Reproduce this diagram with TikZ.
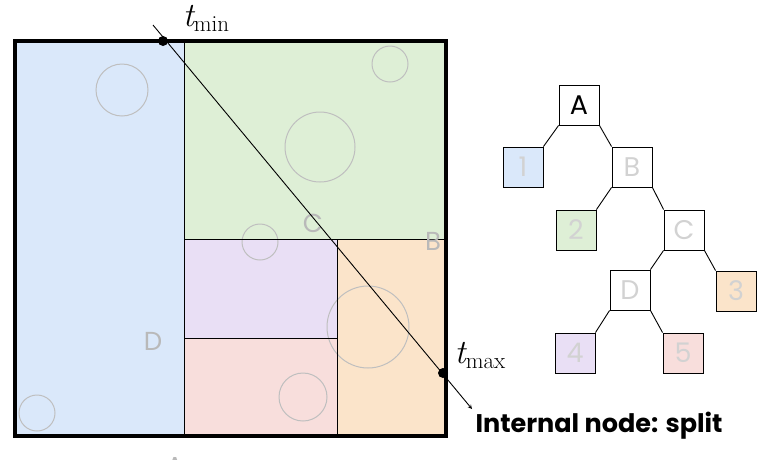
\documentclass[tikz,border=0pt]{standalone}
\usepackage{fontspec}
\newfontfamily\gfont{Poppins}
\newcommand{\tlab}[1]{{\fontsize{34}{34}\selectfont\itshape t}\raisebox{-5pt}{\fontsize{23}{23}\selectfont #1}}
\definecolor{cblue}{RGB}{218,232,250}
\definecolor{cgreen}{RGB}{222,239,214}
\definecolor{cviolet}{RGB}{233,223,245}
\definecolor{cred}{RGB}{248,222,220}
\definecolor{corange}{RGB}{251,228,202}
\begin{document}
\begin{tikzpicture}[x=1pt,y=-1pt,
  circ/.style={draw=gray!50,line width=1pt},
  lab/.style={text=gray!55,font=\gfont\fontsize{26}{26}\selectfont},
  tn/.style={draw,line width=0.9pt,minimum size=40pt,inner sep=0pt,font=\gfont\fontsize{27}{27}\selectfont,text=gray!35},
  edge/.style={line width=0.9pt}]
\useasboundingbox (0,0) rectangle (778,459);
\begin{scope}
\clip (0,0) rectangle (778,459);
\fill[cblue] (15,41) rectangle (184,436);
\fill[cgreen] (184,41) rectangle (446,239);
\fill[cviolet] (184,239) rectangle (337,338);
\fill[cred] (184,338) rectangle (337,436);
\fill[corange] (337,239) rectangle (446,436);
\draw[circ] (122,90) circle (26);
\draw[circ] (390,64) circle (18);
\draw[circ] (320,147) circle (35);
\draw[circ] (260,242) circle (18);
\draw[circ] (368,327) circle (41);
\draw[circ] (303,397) circle (24);
\draw[circ] (37,413) circle (18);
\draw[line width=1pt] (184,41) -- (184,436) (184,239) -- (446,239) (337,239) -- (337,436) (184,338) -- (337,338);
\draw[line width=3.5pt] (15,41) rectangle (446,436);
\node[lab] (lc) at (313,223) {C};
\node[lab] (lb) at (433,241) {B};
\node[lab] (ld) at (153,341) {D};
\node[lab] (la) at (175,466) {A};
\end{scope}
\coordinate (r0) at (153,25);
\coordinate (r1) at (472,409);
\draw[line width=0.9pt,-stealth] (r0) -- (r1);
\coordinate (p0) at (163,41);
\coordinate (p1) at (443,373);
\fill (p0) circle (5);
\fill (p1) circle (5);
\node (tmin) at (206,18) {\tlab{min}};
\node (tmax) at (480,355) {\tlab{max}};
\node[tn,text=black] (A) at (579,105) {A};
\node[tn,fill=cblue] (n1) at (523,167) {1};
\node[tn] (B) at (632,167) {B};
\node[tn,fill=cgreen] (n2) at (576,230) {2};
\node[tn] (C) at (684,230) {C};
\node[tn] (D) at (630,290) {D};
\node[tn,fill=corange] (n3) at (736,291) {3};
\node[tn,fill=cviolet] (n4) at (575,353) {4};
\node[tn,fill=cred] (n5) at (683,353) {5};
\draw[edge] (A.south west) -- (n1.north east) (A.south east) -- (B.north west)
 (B.south west) -- (n2.north east) (B.south east) -- (C.north west)
 (C.south west) -- (D.north east) (C.south east) -- (n3.north west)
 (D.south west) -- (n4.north east) (D.south east) -- (n5.north west);
\node[font=\gfont\bfseries\fontsize{25.5}{25.5}\selectfont,anchor=west] (title) at (472,426) {Internal node: split};
\end{tikzpicture}
\end{document}
